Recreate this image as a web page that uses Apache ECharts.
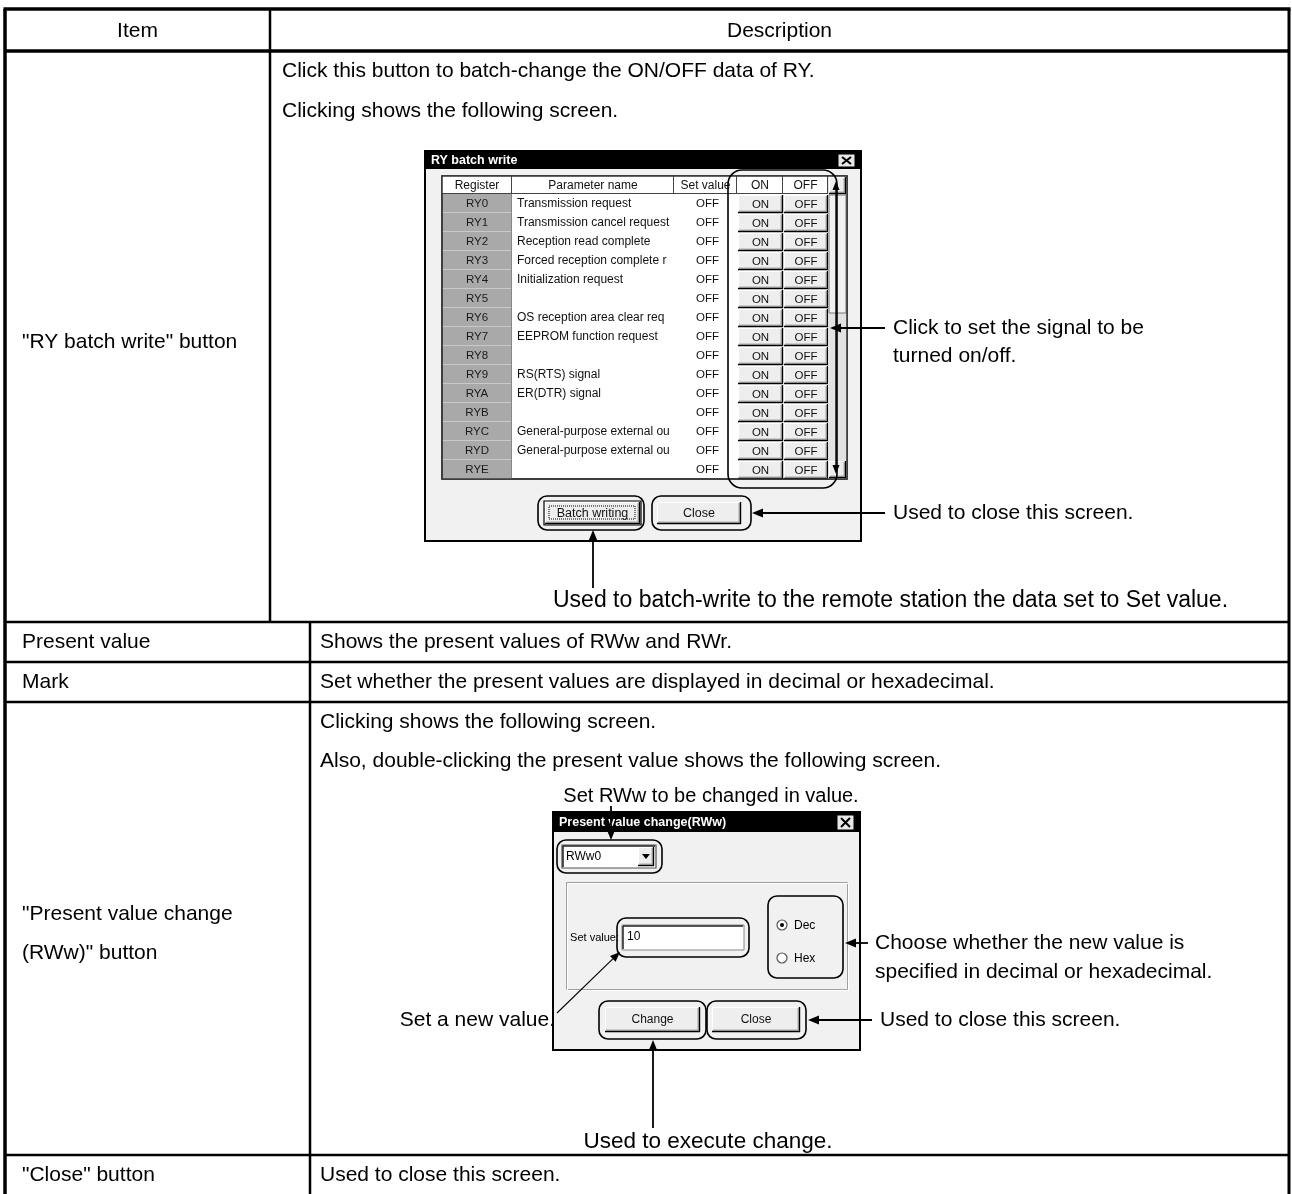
<!DOCTYPE html>
<html><head><meta charset="utf-8">
<script src="https://cdn.jsdelivr.net/npm/echarts@6/dist/echarts.min.js"></script>
<style>html,body{margin:0;padding:0;background:#fff}#c{width:1292px;height:1194px}</style>
</head><body><div id="c"></div><script>
// ---------- data ----------
const headerLabels = ['Item', 'Description'];
const itemLabels = [
  ['"RY batch write" button'],
  ['Present value'],
  ['Mark'],
  ['"Present value change', '(RWw)" button'],
  ['"Close" button']
];
const descLines = [
  ['Click this button to batch-change the ON/OFF data of RY.', 'Clicking shows the following screen.'],
  ['Shows the present values of RWw and RWr.'],
  ['Set whether the present values are displayed in decimal or hexadecimal.'],
  ['Clicking shows the following screen.', 'Also, double-clicking the present value shows the following screen.'],
  ['Used to close this screen.']
];
const ryTitle = 'RY batch write';
const ryColumns = ['Register', 'Parameter name', 'Set value', 'ON', 'OFF'];
const ryRegisters = ['RY0','RY1','RY2','RY3','RY4','RY5','RY6','RY7','RY8','RY9','RYA','RYB','RYC','RYD','RYE'];
const ryParams = ['Transmission request','Transmission cancel request','Reception read complete','Forced reception complete re\u0131',
  'Initialization request','','OS reception area clear reque','EEPROM function request','','RS(RTS) signal','ER(DTR) signal','',
  'General-purpose external outp','General-purpose external outp',''];
const rySetValues = ['OFF','OFF','OFF','OFF','OFF','OFF','OFF','OFF','OFF','OFF','OFF','OFF','OFF','OFF','OFF'];
const ryButtons = ['Batch writing', 'Close'];
const ryNotes = ['Click to set the signal to be', 'turned on/off.', 'Used to close this screen.',
  'Used to batch-write to the remote station the data set to Set value.'];
const pvTitle = 'Present value change(RWw)';
const pvDevice = 'RWw0';
const pvLabel = 'Set value:';
const pvValue = '10';
const pvRadios = ['Dec', 'Hex'];
const pvButtons = ['Change', 'Close'];
const pvNotes = ['Set RWw to be changed in value.', 'Set a new value.', 'Choose whether the new value is',
  'specified in decimal or hexadecimal.', 'Used to close this screen.', 'Used to execute change.'];

// ---------- drawing helpers ----------
const FONT = '"Liberation Sans", Arial, Helvetica, sans-serif';
const DLG = '"Liberation Sans", Arial, sans-serif';
const G = [];
function R(x, y, w, h, fill, stroke, lw, r) {
  G.push({type: 'rect', shape: {x: x, y: y, width: w, height: h, r: r || 0},
    style: {fill: fill || 'none', stroke: stroke || null, lineWidth: lw || 1}});
}
function L(x1, y1, x2, y2, lw, c, dash) {
  G.push({type: 'line', shape: {x1: x1, y1: y1, x2: x2, y2: y2},
    style: {stroke: c || '#000', lineWidth: lw || 1, lineDash: dash || null}});
}
function T(x, y, s, o) {
  o = o || {};
  G.push({type: 'text', x: x, y: y, style: {text: s, fill: o.fill || '#000',
    fontSize: o.size || 21, fontFamily: o.family || FONT, fontWeight: o.weight || 'normal',
    align: o.align || 'left', verticalAlign: 'middle', textAlign: o.align || 'left', textVerticalAlign: 'middle'}});
}
function arrow(x1, y1, x2, y2, lw, hl, hw) {
  const a = Math.atan2(y2 - y1, x2 - x1);
  hl = hl || 11; hw = hw || 4.5;
  const bx = x2 - hl * Math.cos(a), by = y2 - hl * Math.sin(a);
  L(x1, y1, bx, by, lw || 1.6);
  const px = -Math.sin(a) * hw, py = Math.cos(a) * hw;
  G.push({type: 'polygon', shape: {points: [[x2, y2], [bx + px, by + py], [bx - px, by - py]]}, style: {fill: '#000'}});
}
function winBtn(x, y, w, h, label, fs, isDefault) {
  R(x, y, w, h, '#eeeeee');
  L(x, y + 0.5, x + w, y + 0.5, 1, '#ffffff'); L(x + 0.5, y, x + 0.5, y + h, 1, '#ffffff');
  L(x, y + h - 0.5, x + w, y + h - 0.5, 1.4, '#000'); L(x + w - 0.5, y, x + w - 0.5, y + h, 1.4, '#000');
  L(x + 1, y + h - 1.8, x + w - 1.5, y + h - 1.8, 1, '#808080'); L(x + w - 1.8, y + 1, x + w - 1.8, y + h - 1.5, 1, '#808080');
  if (isDefault) {
    R(x - 1, y - 1, w + 2, h + 2, 'none', '#000', 1.2);
    R(x + 4, y + 4, w - 9, h - 9, 'none', '#000', 1, 0);
    G[G.length - 1].style.lineDash = [1, 1];
  }
  if (label) T(x + w / 2, y + h / 2 + 0.5, label, {size: fs || 12, align: 'center', family: DLG, fill: '#111'});
}
function titleBar(x, y, w, h, title) {
  R(x, y, w, h, '#000');
  T(x + 5, y + h / 2, title, {size: 12.5, weight: 'bold', fill: '#fff', family: DLG});
  const bx = x + w - 22, by = y + 2, bw = 17, bh = h - 4;
  R(bx, by, bw, bh, '#e8e8e8', '#000', 1);
  L(bx + 4, by + 3, bx + bw - 4, by + bh - 3, 2, '#000');
  L(bx + bw - 4, by + 3, bx + 4, by + bh - 3, 2, '#000');
}

// ---------- outer table ----------
const TL = 5, TR = 1289, TT = 9;
const rowBottoms = [51, 622, 662, 702, 1155];
const divTop = 270, divBottom = 310;
L(TL - 1.5, TT, TR + 1.5, TT, 3.5);
L(TL, TT, TL, 1194, 3.5);
L(TR, TT, TR, 1194, 3);
L(TL, rowBottoms[0], TR, rowBottoms[0], 3.5);
for (let i = 1; i < rowBottoms.length; i++) L(TL, rowBottoms[i], TR, rowBottoms[i], 2.5);
L(divTop, TT, divTop, rowBottoms[1], 2.5);
L(divBottom, rowBottoms[1], divBottom, 1194, 2.5);

T((TL + divTop) / 2, 31, headerLabels[0], {align: 'center'});
T((divTop + TR) / 2, 31, headerLabels[1], {align: 'center'});

// item labels
const itemY = [[342], [642], [682], [914, 953], [1175]];
itemLabels.forEach((lines, i) => lines.forEach((s, j) => T(22, itemY[i][j], s)));
// descriptions
const descY = [[71, 111], [642], [682], [722, 761], [1175]];
descLines.forEach((lines, i) => lines.forEach((s, j) => T(i === 0 ? 282 : 320, descY[i][j], s)));

// ---------- RY batch write dialog ----------
const D1 = {x: 425, y: 151, w: 436, h: 390};
R(D1.x, D1.y, D1.w, D1.h, '#f1f1f1', '#000', 2);
titleBar(D1.x + 1, D1.y + 1, D1.w - 2, 17, ryTitle);
// table area
const tx = 442, ty = 176, hh = 18, rh = 19;
const colX = [442, 512, 674, 737, 783, 828, 847];
const tBottom = ty + hh + rh * ryRegisters.length;
R(tx, ty, colX[6] - tx, tBottom - ty, '#ffffff', '#333', 1.5);
// header
for (let c = 0; c < 5; c++) {
  const x0 = colX[c], x1 = colX[c + 1];
  R(x0, ty, x1 - x0, hh, '#ffffff');
  L(x1 - 0.5, ty, x1 - 0.5, ty + hh, 1, '#444');
  L(x0, ty + hh - 0.5, x1, ty + hh - 0.5, 1, '#444');
  T((x0 + x1) / 2, ty + hh / 2 + 0.5, ryColumns[c], {size: 12, align: 'center', family: DLG, fill: '#111'});
}
// rows
ryRegisters.forEach((reg, i) => {
  const y0 = ty + hh + i * rh;
  R(colX[0] + 1, y0, colX[1] - colX[0] - 1, rh, '#a9a9a9');
  L(colX[0], y0 + rh - 0.5, colX[1], y0 + rh - 0.5, 1, '#c9c9c9');
  T((colX[0] + colX[1]) / 2, y0 + rh / 2, reg, {size: 11.5, align: 'center', family: DLG, fill: '#1a1a1a'});
  if (ryParams[i]) {
    G.push({type: 'text', x: colX[1] + 5, y: y0 + rh / 2, style: {text: ryParams[i], fill: '#111', fontSize: 12,
      fontFamily: DLG, width: colX[2] - colX[1] - 7, overflow: 'truncate', ellipsis: '',
      align: 'left', verticalAlign: 'middle', textAlign: 'left', textVerticalAlign: 'middle'}});
  }
  T((colX[2] + colX[3]) / 2 + 2, y0 + rh / 2, rySetValues[i], {size: 11.5, align: 'center', family: DLG, fill: '#111'});
  winBtn(colX[3] + 1, y0 + 1, colX[4] - colX[3] - 1, rh - 1, ryColumns[3], 11.5);
  winBtn(colX[4] + 1, y0 + 1, colX[5] - colX[4] - 1, rh - 1, ryColumns[4], 11.5);
});
L(colX[1] - 0.5, ty + hh, colX[1] - 0.5, tBottom, 1, '#888');
// scrollbar
R(colX[5], ty, colX[6] - colX[5], tBottom - ty, '#e2e2e2');
winBtn(colX[5] + 1, ty + 1, colX[6] - colX[5] - 2, hh - 1, '');
R(colX[5] + 1, ty + hh + 1, colX[6] - colX[5] - 2, 118, '#f1f1f1', '#777', 1);
winBtn(colX[5] + 1, tBottom - hh, colX[6] - colX[5] - 2, hh - 1, '');
R(tx, ty, colX[6] - tx, tBottom - ty, 'none', '#333', 1.5);
// annotation around ON/OFF
R(728, 170, 109, 318, 'none', '#000', 1.6, 14);
arrow(836, 300, 836, 181, 1.4, 9, 3.5);
arrow(836, 300, 836, 474, 1.4, 9, 3.5);
// bottom buttons
R(538, 496, 106, 34, 'none', '#000', 1.6, 9);
winBtn(545, 502, 95, 22, ryButtons[0], 12.5, true);
R(652, 496, 99, 34, 'none', '#000', 1.6, 9);
winBtn(657, 502, 84, 22, ryButtons[1], 12.5);
// notes
arrow(885, 328, 830, 328, 1.8);
T(893, 328, ryNotes[0]);
T(893, 356, ryNotes[1]);
arrow(885, 513, 752, 513, 1.8);
T(893, 513, ryNotes[2]);
arrow(593, 588, 593, 530, 1.8);
T(553, 601, ryNotes[3], {size: 23});

// ---------- Present value change dialog ----------
T(711, 796, pvNotes[0], {align: 'center', size: 20});
const D2 = {x: 553, y: 812, w: 307, h: 238};
R(D2.x, D2.y, D2.w, D2.h, '#f1f1f1', '#000', 2);
titleBar(D2.x + 1, D2.y + 1, D2.w - 2, 19, pvTitle);
arrow(611, 806, 611, 840, 1.8);
// combo box
R(557, 840, 105, 33, 'none', '#000', 1.6, 9);
R(562, 845, 94, 23, '#ffffff', '#555', 1.2);
L(563, 846, 655, 846, 1.5, '#222'); L(563, 846, 563, 867, 1.5, '#222');
T(566, 857, pvDevice, {size: 12, family: DLG});
winBtn(638, 847, 16, 19, '');
G.push({type: 'polygon', shape: {points: [[642, 854], [650, 854], [646, 859]]}, style: {fill: '#000'}});
// group box
R(566.5, 882.5, 281, 107, 'none', '#a0a0a0', 1);
R(567.5, 883.5, 281, 107, 'none', '#ffffff', 1);
// set value field
T(619, 938, pvLabel, {size: 11, align: 'right', family: DLG});
R(617, 918, 132, 39, 'none', '#000', 1.6, 9);
R(622, 925, 122, 25, '#ffffff', '#888', 1);
L(623, 926, 743, 926, 1.5, '#222'); L(623, 926, 623, 949, 1.5, '#222');
T(627, 937, pvValue, {size: 12, family: DLG});
// radios
R(768, 896, 75, 82, 'none', '#000', 1.6, 9);
G.push({type: 'circle', shape: {cx: 782, cy: 925, r: 5}, style: {fill: '#fff', stroke: '#555', lineWidth: 1.2}});
G.push({type: 'circle', shape: {cx: 782, cy: 925, r: 2}, style: {fill: '#000'}});
T(794, 926, pvRadios[0], {size: 12, family: DLG});
G.push({type: 'circle', shape: {cx: 782, cy: 958, r: 5}, style: {fill: '#fff', stroke: '#555', lineWidth: 1.2}});
T(794, 959, pvRadios[1], {size: 12, family: DLG});
// buttons
R(599, 1001, 107, 38, 'none', '#000', 1.6, 9);
winBtn(605, 1007, 95, 25, pvButtons[0], 12);
R(707, 1001, 99, 38, 'none', '#000', 1.6, 9);
winBtn(712, 1007, 88, 25, pvButtons[1], 12);
// notes
T(555, 1020, pvNotes[1], {align: 'right'});
arrow(557, 1013, 620, 952, 1.1, 10, 4);
arrow(868, 943, 845, 943, 1.8);
T(875, 943, pvNotes[2]);
T(875, 972, pvNotes[3]);
arrow(872, 1020, 808, 1020, 1.8);
T(880, 1020, pvNotes[4]);
arrow(653, 1128, 653, 1040, 1.8);
T(708, 1142, pvNotes[5], {align: 'center', size: 22.5});

const chart = echarts.init(document.getElementById('c'), null, {renderer: 'canvas'});
chart.setOption({animation: false, backgroundColor: '#ffffff', graphic: {elements: G}});
</script></body></html>
